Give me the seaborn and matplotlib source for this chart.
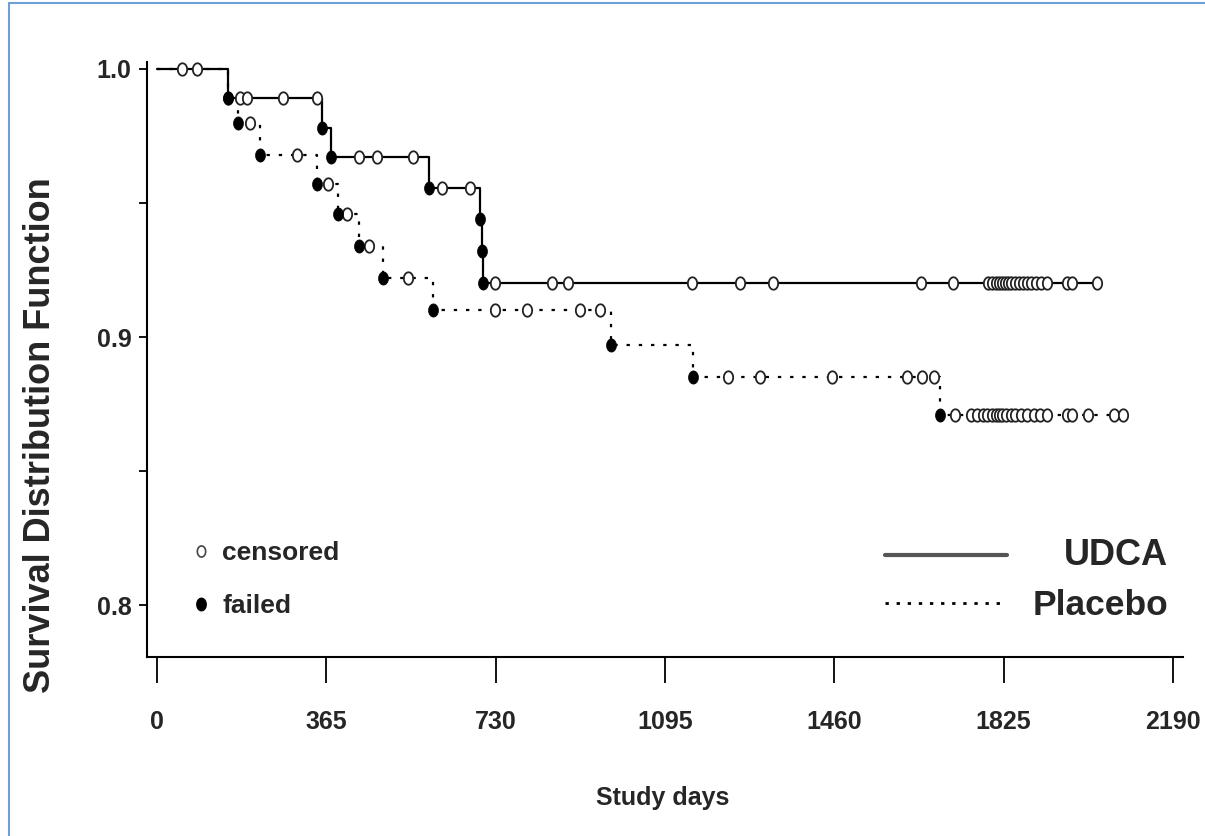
import numpy as np
import pandas as pd
import matplotlib
matplotlib.use("Agg")
import matplotlib.pyplot as plt
import seaborn as sns
from matplotlib.lines import Line2D
from matplotlib.path import Path
from matplotlib.markers import MarkerStyle

# Kaplan-Meier steps (day of drop, survival after drop)
udca_step_days = [0, 152, 356, 376, 587, 697, 700, 703]
udca_step_surv = [1.0, 0.989, 0.978, 0.967, 0.9555, 0.944, 0.932, 0.920]
udca_end_day = 2026
udca_censored = [53, 86, 179, 194, 271, 344, 436, 474, 551, 614, 675,
                 729, 851, 887, 1153, 1257, 1327, 1647, 1717,
                 1792, 1800, 1808, 1815, 1822, 1828, 1835, 1842, 1850,
                 1858, 1866, 1875, 1885, 1895, 1905, 1919, 1961, 1973, 2026]

placebo_step_days = [0, 152, 175, 223, 344, 391, 435, 488, 596, 978, 1156, 1688]
placebo_step_surv = [1.0, 0.989, 0.980, 0.968, 0.957, 0.946, 0.934, 0.922,
                     0.910, 0.897, 0.885, 0.871]
placebo_end_day = 2083
placebo_censored = [200, 301, 369, 409, 456, 542, 729, 797, 912, 955,
                    1232, 1300, 1455, 1616, 1649, 1674, 1720,
                    1755, 1768, 1780, 1790, 1800, 1808, 1815, 1822, 1830,
                    1840, 1850, 1862, 1875, 1890, 1904, 1919, 1962, 1973,
                    2006, 2063, 2083]

x_ticks = [0, 365, 730, 1095, 1460, 1825, 2190]
y_ticks = [0.8, 0.9, 1.0]
y_minor = [0.85, 0.95]

sns.set_style("ticks")
plt.rcParams["font.family"] = ["Liberation Sans", "DejaVu Sans"]
plt.rcParams["font.weight"] = "bold"


def step_frame(days, surv, end_day, name):
    return pd.DataFrame({"day": days + [end_day], "surv": surv + [surv[-1]], "group": name})


def level_at(days, surv, when):
    idx = np.searchsorted(days, when, side="right") - 1
    return np.asarray(surv)[idx]


lines = pd.concat([
    step_frame(udca_step_days, udca_step_surv, udca_end_day, "UDCA"),
    step_frame(placebo_step_days, placebo_step_surv, placebo_end_day, "Placebo"),
])

# slightly tall oval marker like the scanned original
t = np.linspace(0, 2 * np.pi, 40)
oval = MarkerStyle(Path(np.column_stack([0.75 * np.cos(t), np.sin(t)]), closed=True))

fig = plt.figure(figsize=(12.05, 8.36), dpi=100)
ax = fig.add_axes([0.122, 0.2141, 0.8598, 0.7117])

sns.lineplot(data=lines, x="day", y="surv", style="group",
             dashes={"UDCA": "", "Placebo": (1.5, 4.0)},
             color="black", lw=1.6, drawstyle="steps-post",
             estimator=None, sort=False, legend=False, ax=ax)

for days, surv, cens in [(udca_step_days, udca_step_surv, udca_censored),
                         (placebo_step_days, placebo_step_surv, placebo_censored)]:
    sns.scatterplot(x=cens, y=level_at(days, surv, cens), marker=oval, s=80,
                    color="white", edgecolor="#222222", linewidth=1.3,
                    zorder=3, ax=ax)
    sns.scatterplot(x=days[1:], y=surv[1:], marker=oval, s=90,
                    color="black", edgecolor="black", linewidth=0.5,
                    zorder=4, ax=ax)

ax.set_xlim(-21.6, 2212)
ax.set_ylim(0.7806, 1.0026)
sns.despine(ax=ax)
for side in ["left", "bottom"]:
    ax.spines[side].set_linewidth(1.5)
    ax.spines[side].set_color("black")

ax.set_xticks(x_ticks)
ax.set_xticklabels([str(v) for v in x_ticks])
ax.set_yticks(y_ticks)
ax.set_yticklabels([f"{v:.1f}" for v in y_ticks])
ax.set_yticks(y_minor, minor=True)
ax.tick_params(axis="x", length=19, width=1.3, pad=19, labelsize=18, color="black")
ax.tick_params(axis="y", which="both", length=6, width=1.3, pad=5, labelsize=18, color="black")

ax.set_xlabel("Study days", fontsize=18, fontweight="bold")
ax.xaxis.set_label_coords(0.498, -0.216)
ax.set_ylabel("Survival Distribution Function", fontsize=26, fontweight="bold")
ax.yaxis.set_label_coords(-0.086, 0.373)

# hand-made legends
ax.plot([0.052], [0.178], transform=ax.transAxes, marker=oval, ms=8,
        mfc="white", mec="#444444", mew=1.2, ls="none")
ax.plot([0.052], [0.089], transform=ax.transAxes, marker=oval, ms=9,
        mfc="black", mec="black", ls="none")
ax.text(0.0724, 0.175, "censored", transform=ax.transAxes, fontsize=19, va="center", ha="left")
ax.text(0.0724, 0.0857, "failed", transform=ax.transAxes, fontsize=19, va="center", ha="left")

ax.plot([0.712, 0.830], [0.171, 0.171], transform=ax.transAxes, color="#555555", lw=3)
ax.plot([0.712, 0.830], [0.091, 0.091], transform=ax.transAxes, color="black", lw=2,
        ls=(0, (1.2, 2.8)))
ax.text(0.9855, 0.1714, "UDCA", transform=ax.transAxes, fontsize=26, va="center", ha="right")
ax.text(0.9855, 0.0874, "Placebo", transform=ax.transAxes, fontsize=25.5, va="center", ha="right")

# thin blue frame of the original picture
fig.add_artist(Line2D([9 / 1205, 9 / 1205], [0, 1 - 3 / 836], transform=fig.transFigure,
                      color="#6f9fd8", lw=1.5))
fig.add_artist(Line2D([9 / 1205, 1], [1 - 3 / 836, 1 - 3 / 836], transform=fig.transFigure,
                      color="#6f9fd8", lw=1.5))

fig.savefig("out.png", dpi=100, facecolor="white")
